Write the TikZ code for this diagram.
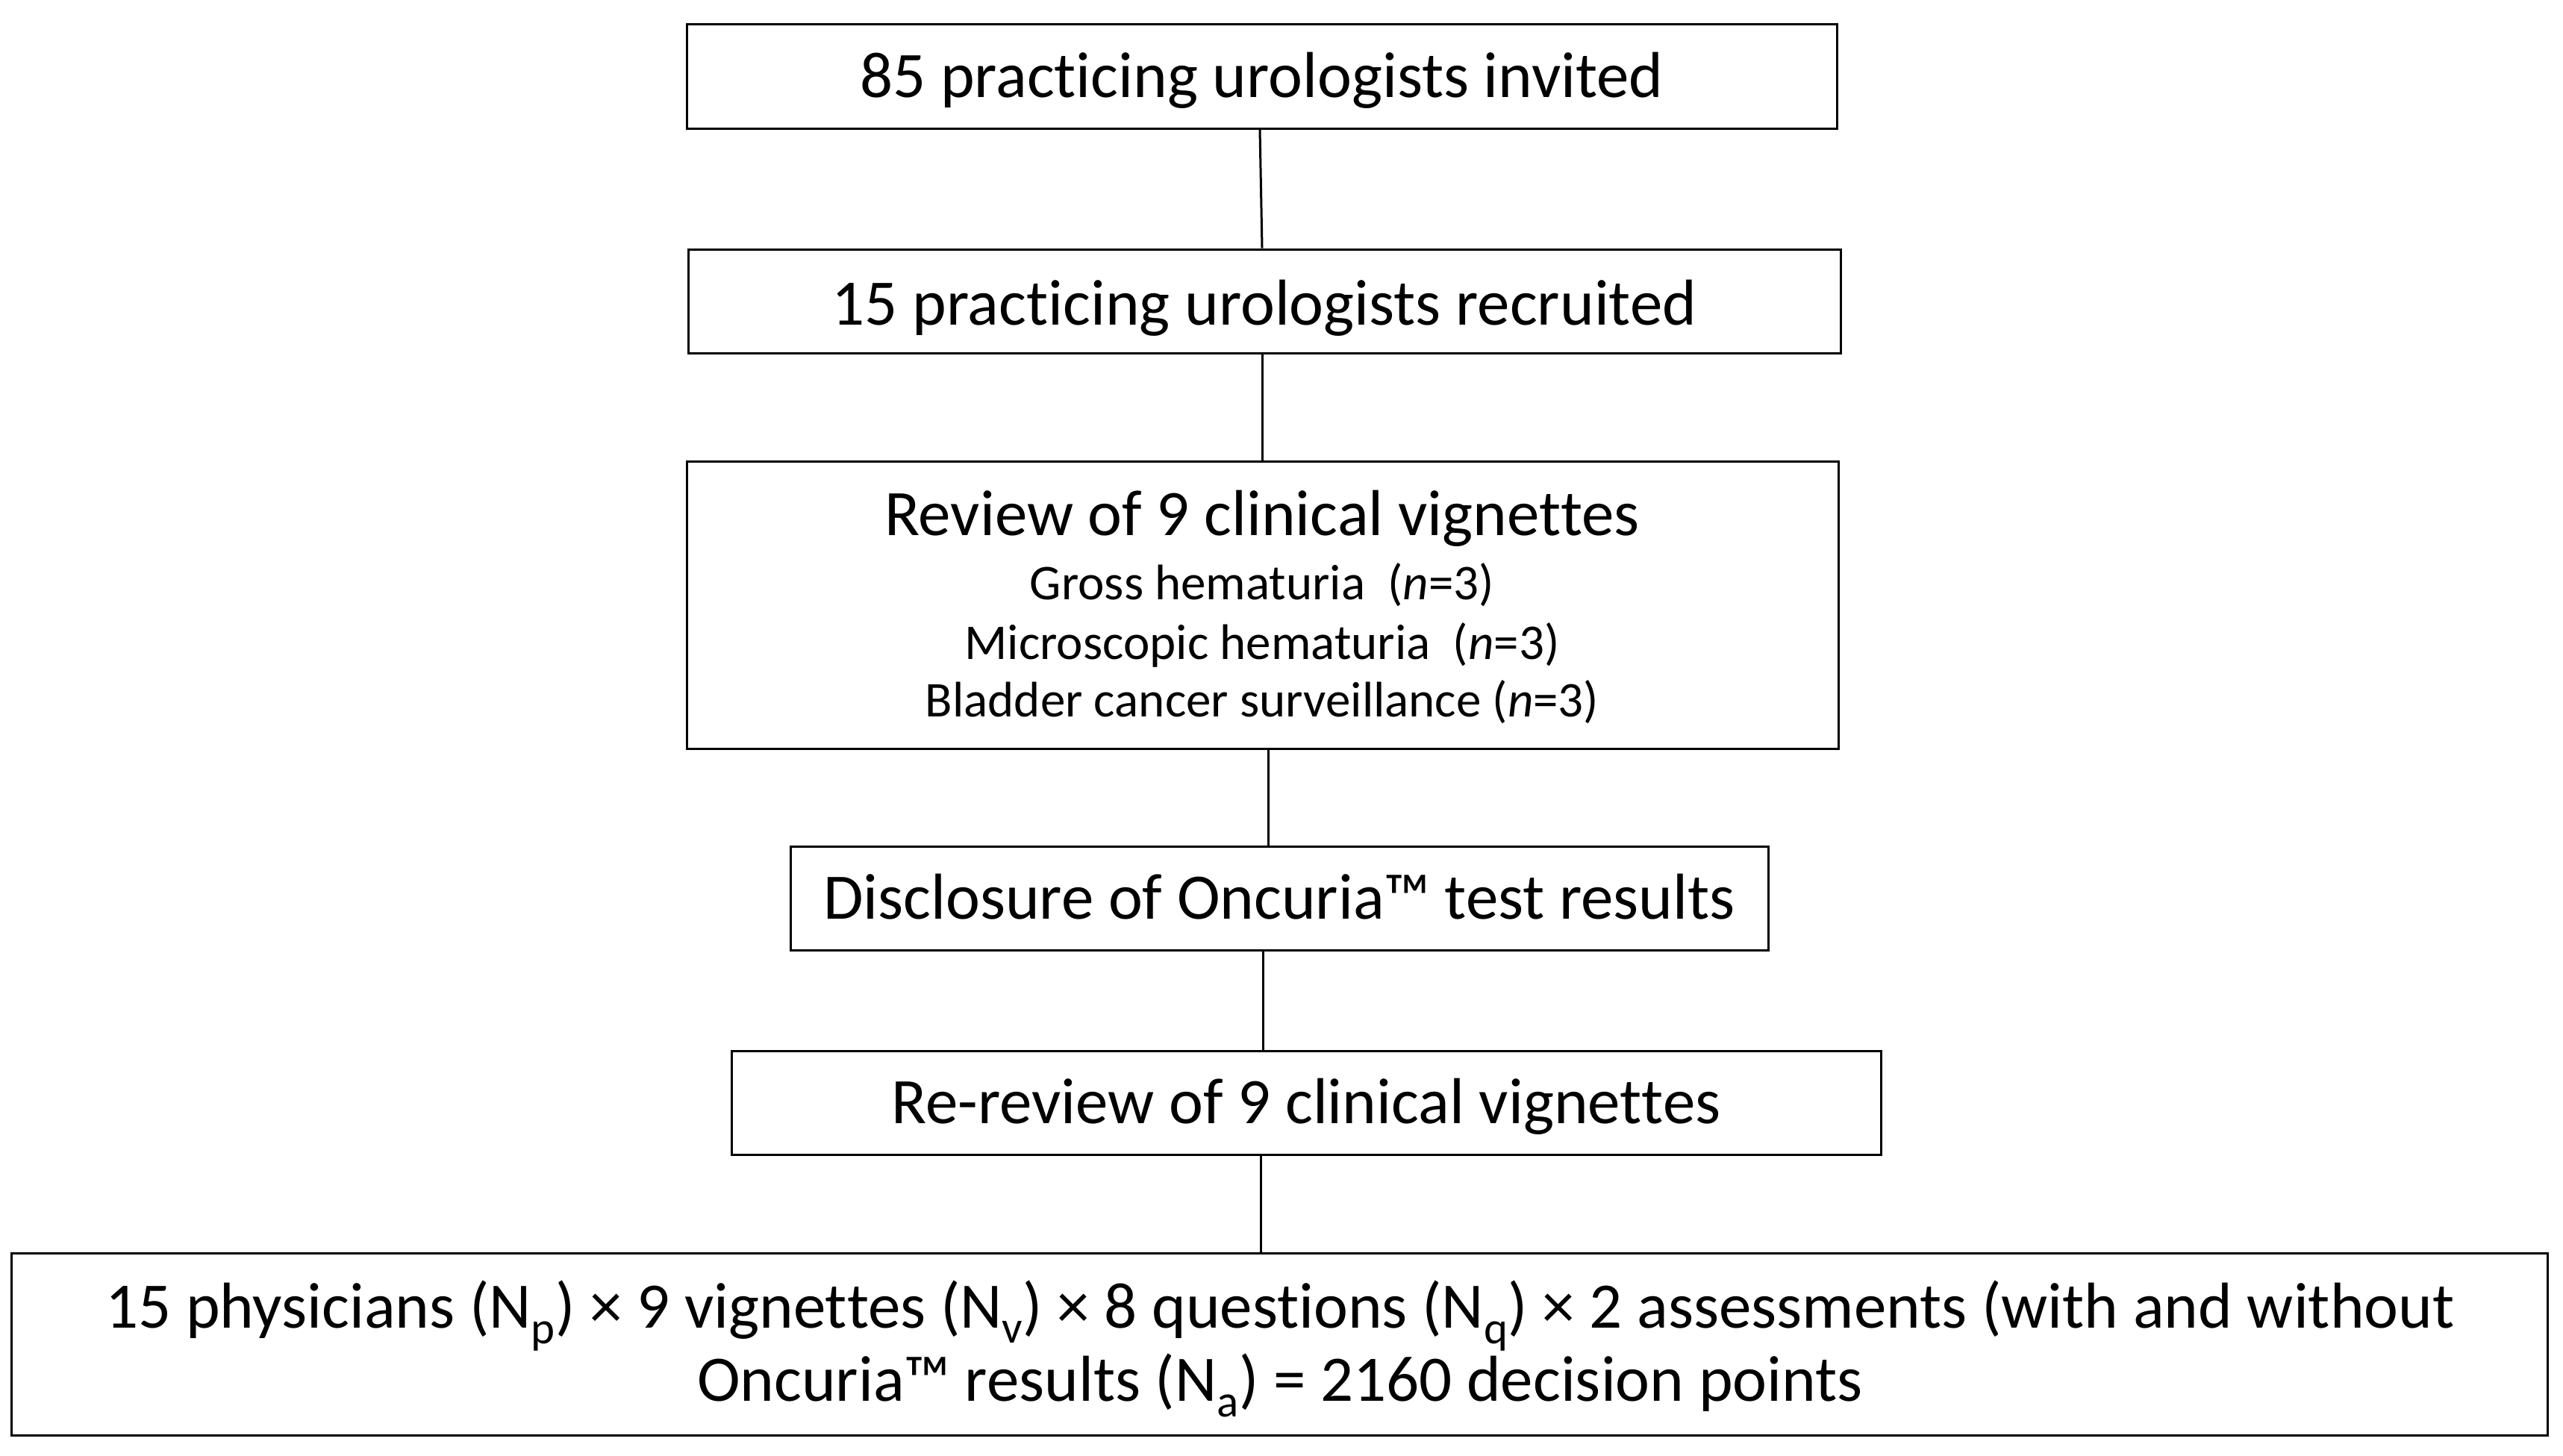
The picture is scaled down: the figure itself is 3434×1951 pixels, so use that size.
\documentclass[tikz,border=0pt]{standalone}
\usepackage{fontspec}
\setmainfont{Carlito}[RawFeature=-liga,RawFeature=-clig,RawFeature=-calt,RawFeature=-dlig]
\newcommand{\nlg}{\kern0pt{}}
\begin{document}
\begin{tikzpicture}[x=1pt,y=-1pt,
  flowbox/.style={draw=black,line width=3pt,rectangle,inner sep=0pt,
    minimum height=139pt,text height=55pt,text depth=0pt,
    font=\fontsize{87}{100}\selectfont},
  plainbox/.style={draw=black,line width=3pt,rectangle,inner sep=0pt},
  bigtxt/.style={inner sep=0pt,anchor=base,font=\fontsize{87}{100}\selectfont},
  smalltxt/.style={inner sep=0pt,anchor=base,font=\fontsize{67}{80}\selectfont},
  conn/.style={draw=black,line width=3pt}]
\path[use as bounding box,fill=white] (0,0) rectangle (3434,1951);

\node[flowbox,minimum width=1541pt] (b1) at (1690.5,102.5) {85 practic\nlg ing urologists invited};
\node[flowbox,minimum width=1544pt,text height=63pt] (b2) at (1694,403.5) {15 practic\nlg ing urologists recruited};
\node[plainbox,minimum width=1543pt,minimum height=385pt] (b3) at (1691.5,810.5) {};
\node[bigtxt] (t3a) at (1691,717) {Review of 9 clinical vignet\nlg tes};
\node[smalltxt] (t3b) at (1691,803) {Gross hematuria\ \ (\textit{n}=3)};
\node[smalltxt] (t3c) at (1691,883) {Microscopic hematuria\ \ (\textit{n}=3)};
\node[smalltxt] (t3d) at (1691,960) {Bladder cancer surveillance (\textit{n}=3)};
\node[flowbox,minimum width=1310pt] (b4) at (1714,1203.5) {Disclosure of Oncuria™ test results};
\node[flowbox,minimum width=1540pt] (b5) at (1750,1477.5) {Re-review of 9 clinical vignet\nlg tes};
\node[plainbox,minimum width=3398pt,minimum height=244pt] (b6) at (1714,1801) {};
\node[bigtxt] (t6a) at (1715,1779) {15 physicians (N\textsubscript{p}) × 9 vignet\nlg tes (N\textsubscript{v}) × 8 quest\nlg ions (N\textsubscript{q}) × 2 assessments (with and without};
\node[bigtxt] (t6b) at (1715,1877) {Oncuria™ results (N\textsubscript{a}) = 2160 decision points};

\draw[conn] ([xshift=-2.5pt]b1.south) -- ([xshift=-3pt]b2.north);
\draw[conn] ([xshift=-3pt]b2.south) -- ([xshift=-0.5pt]b3.north);
\draw[conn] ([xshift=7.5pt]b3.south) -- ([xshift=-15pt]b4.north);
\draw[conn] ([xshift=-22pt]b4.south) -- ([xshift=-58pt]b5.north);
\draw[conn] ([xshift=-61pt]b5.south) -- ([xshift=-25pt]b6.north);
\end{tikzpicture}
\end{document}
